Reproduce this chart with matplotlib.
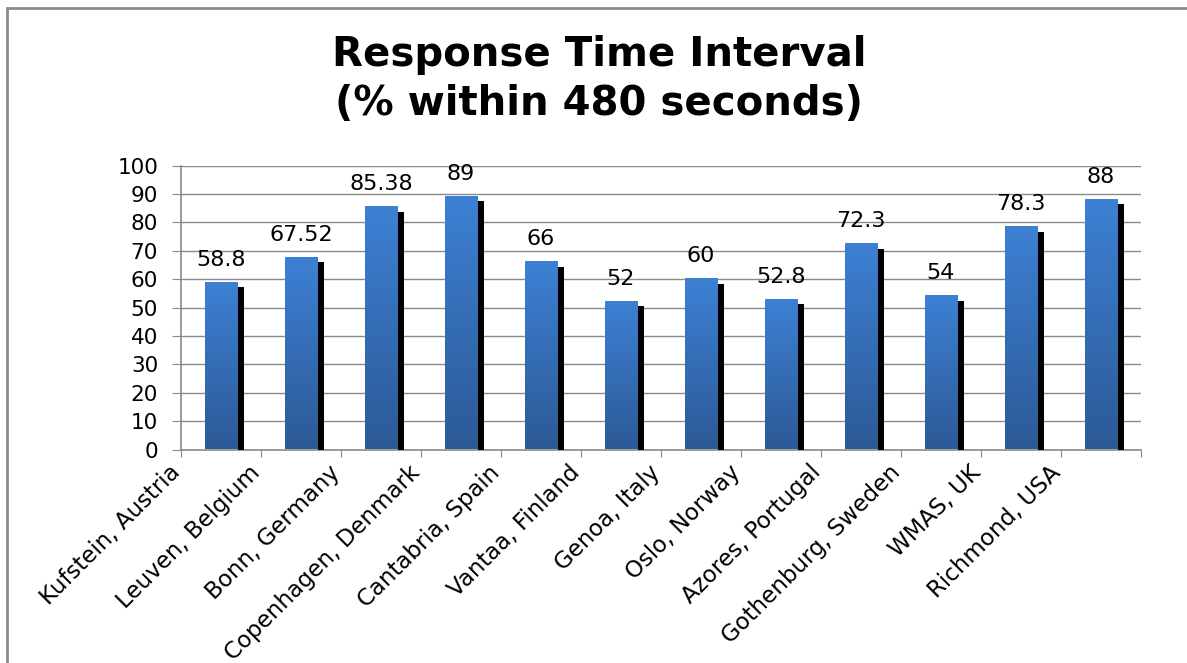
import numpy as np
import matplotlib
matplotlib.use('Agg')
import matplotlib.pyplot as plt
from matplotlib.colors import LinearSegmentedColormap
from matplotlib.patches import Rectangle

cities = ['Kufstein, Austria', 'Leuven, Belgium', 'Bonn, Germany',
          'Copenhagen, Denmark', 'Cantabria, Spain', 'Vantaa, Finland',
          'Genoa, Italy', 'Oslo, Norway', 'Azores, Portugal',
          'Gothenburg, Sweden', 'WMAS, UK', 'Richmond, USA']
pct = [58.8, 67.52, 85.38, 89, 66, 52, 60, 52.8, 72.3, 54, 78.3, 88]
value_text = ['58.8', '67.52', '85.38', '89', '66', '52', '60', '52.8',
              '72.3', '54', '78.3', '88']

W, H = 1187, 663
fig = plt.figure(figsize=(W / 100, H / 100), dpi=100)
fig.patch.set_facecolor('white')

# outer chart frame (only top/left edges fall inside the canvas)
fig.add_artist(Rectangle((7 / W, -0.2), 2.0, 1 - 8 / H + 0.2,
                         transform=fig.transFigure, fill=False,
                         edgecolor='#8c8c8c', lw=2))

ax = fig.add_axes([181 / W, 213.5 / H, 960 / W, 284 / H])

grid_col = '#8a8a8a'
blue = LinearSegmentedColormap.from_list('bar', ['#2c5a96', '#3d80d4'])
grad = np.linspace(0, 1, 256).reshape(-1, 1)

bar_w = 0.41
shadow_w = 0.075
for i, v in enumerate(pct):
    left = i - 0.2
    # dark side face of the bar
    ax.add_patch(Rectangle((left + bar_w, 0), shadow_w, v - 1.6,
                           facecolor='black', edgecolor='none', zorder=3))
    ax.imshow(grad, cmap=blue, origin='lower', aspect='auto',
              extent=[left, left + bar_w, 0, v], zorder=4)
    ax.text(i, v + 4.5, value_text[i], ha='center', va='bottom',
            fontsize=16, color='black', zorder=5)

ax.set_xlim(-0.5, 11.5)
ax.set_ylim(0, 100)

ax.set_yticks(np.arange(0, 101, 10))
ax.yaxis.grid(True, color=grid_col, lw=1)
ax.set_axisbelow(True)
ax.tick_params(axis='y', direction='out', length=6.5, color=grid_col,
               labelsize=15.5, pad=10)

ax.set_xticks(np.arange(-0.5, 12, 1))
ax.set_xticklabels([])
ax.tick_params(axis='x', direction='out', length=5, color=grid_col)

for s in ['top', 'right']:
    ax.spines[s].set_visible(False)
for s in ['left', 'bottom']:
    ax.spines[s].set_color(grid_col)
    ax.spines[s].set_linewidth(1.2)

# rotated category names, ending at the left edge of each slot
for i, name in enumerate(cities):
    ax.annotate(name, xy=(i - 0.5, 0), xycoords='data',
                xytext=(-3, -14), textcoords='offset points',
                rotation=45, rotation_mode='anchor',
                ha='right', va='center', fontsize=16.5)

fig.text(599 / W, 1 - 55 / H, 'Response Time Interval', ha='center',
         va='center', fontsize=29, fontweight='bold')
fig.text(599 / W, 1 - 104 / H, '(% within 480 seconds)', ha='center',
         va='center', fontsize=29, fontweight='bold')

fig.savefig('out.png', dpi=100, facecolor='white')
